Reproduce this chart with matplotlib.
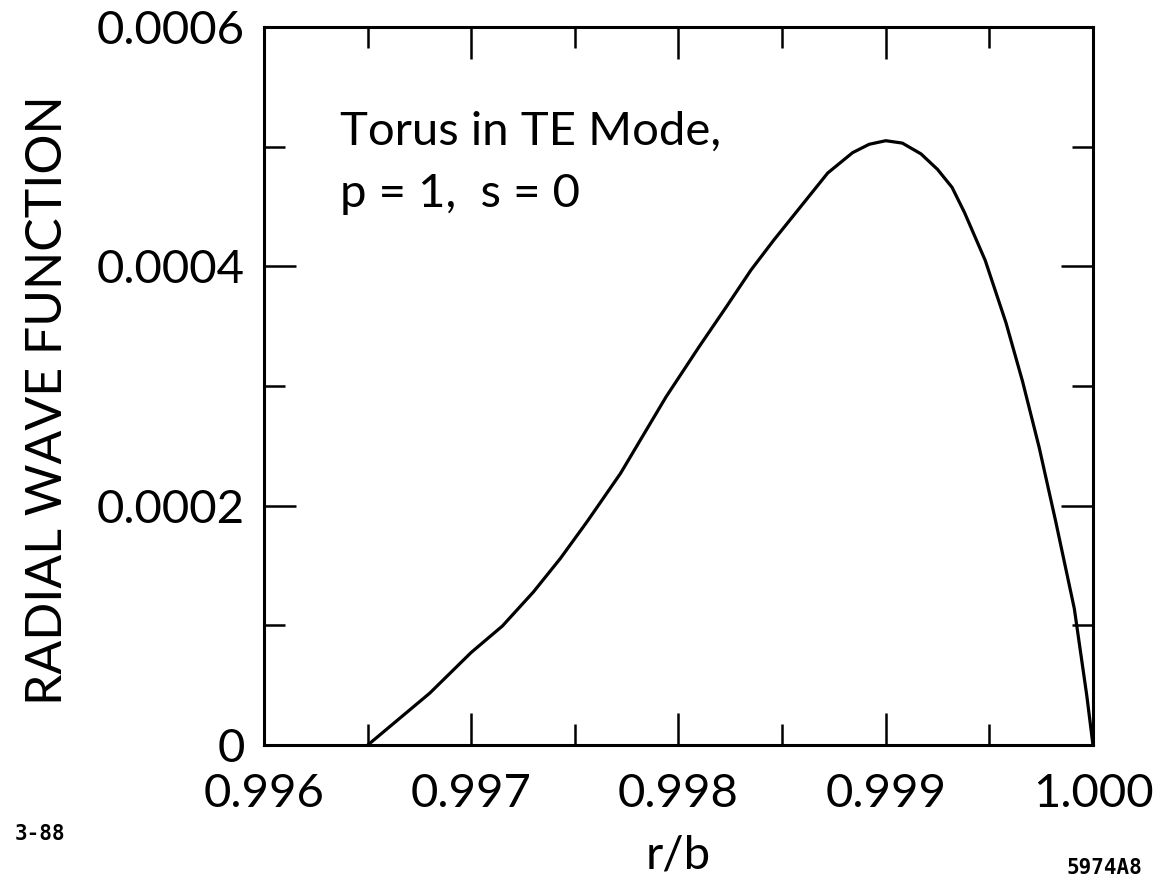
import matplotlib
matplotlib.use("Agg")
import matplotlib.pyplot as plt
from matplotlib.ticker import MultipleLocator, FixedLocator

# ----------------------------
# Data
# ----------------------------
r_over_b = [0.99650, 0.99680, 0.99700, 0.99715, 0.99730, 0.99743, 0.99756,
            0.99772, 0.99794, 0.99810, 0.99823, 0.99835, 0.99846, 0.99859,
            0.99872, 0.99884, 0.99892, 0.99900, 0.99908, 0.99917, 0.99925,
            0.99932, 0.99938, 0.99948, 0.99958, 0.99966, 0.99974, 0.99982,
            0.99991, 0.99997, 1.00000]
wave = [0.0, 0.0000435, 0.0000775, 0.0000995, 0.000128, 0.000156, 0.000187,
        0.000227, 0.000291, 0.000333, 0.000366, 0.000397, 0.000422, 0.000450,
        0.000478, 0.000495, 0.000502, 0.000505, 0.000503, 0.000494, 0.000481,
        0.000466, 0.000445, 0.000405, 0.000353, 0.000304, 0.000249, 0.000187,
        0.000114, 0.0000415, 0.0]

x_ticks = [0.996, 0.997, 0.998, 0.999, 1.000]
x_tick_labels = ["0.996", "0.997", "0.998", "0.999", "1.000"]
y_ticks = [0.0, 0.0002, 0.0004, 0.0006]
y_tick_labels = ["0", "0.0002", "0.0004", "0.0006"]

plt.rcParams['font.family'] = ['Lato', 'DejaVu Sans']
FS = 34

fig = plt.figure(figsize=(11.63, 8.85), dpi=100)
ax = fig.add_axes([0.227, 0.158, 0.7128, 0.8115])

ax.plot(r_over_b, wave, color="black", lw=2.3,
        solid_joinstyle="round", solid_capstyle="round")

ax.set_xlim(0.996, 1.000)
ax.set_ylim(0.0, 0.0006)
ax.xaxis.set_major_locator(FixedLocator(x_ticks))
ax.set_xticklabels(x_tick_labels)
ax.xaxis.set_minor_locator(MultipleLocator(0.0005))
ax.yaxis.set_major_locator(FixedLocator(y_ticks))
ax.set_yticklabels(y_tick_labels)
ax.yaxis.set_minor_locator(MultipleLocator(0.0001))

ax.tick_params(which="both", direction="in", top=True, right=True,
               width=1.8, color="black")
ax.tick_params(which="major", length=23, labelsize=FS)
ax.tick_params(which="minor", length=15)
ax.tick_params(axis="x", which="major", pad=20)
ax.tick_params(axis="y", which="major", pad=14)
for sp in ax.spines.values():
    sp.set_linewidth(2.2)

ax.set_xlabel("r/b", fontsize=FS)
ax.xaxis.set_label_coords(0.5, -0.125)
ax.set_ylabel("RADIAL WAVE FUNCTION", fontsize=36)
ax.yaxis.set_label_coords(-0.233, 0.48)

ax.text(0.092, 0.836, "Torus in TE Mode,", transform=ax.transAxes,
        fontsize=FS, va="baseline", ha="left")
ax.text(0.092, 0.749, "p = 1,  s = 0", transform=ax.transAxes,
        fontsize=FS, va="baseline", ha="left")

fig.text(0.013, 0.058, "3-88", fontsize=15, fontweight="bold",
         family="DejaVu Sans Mono", ha="left", va="center")
fig.text(0.982, 0.019, "5974A8", fontsize=15, fontweight="bold",
         family="DejaVu Sans Mono", ha="right", va="center")

plt.savefig("out.png", dpi=100)
plt.close()
